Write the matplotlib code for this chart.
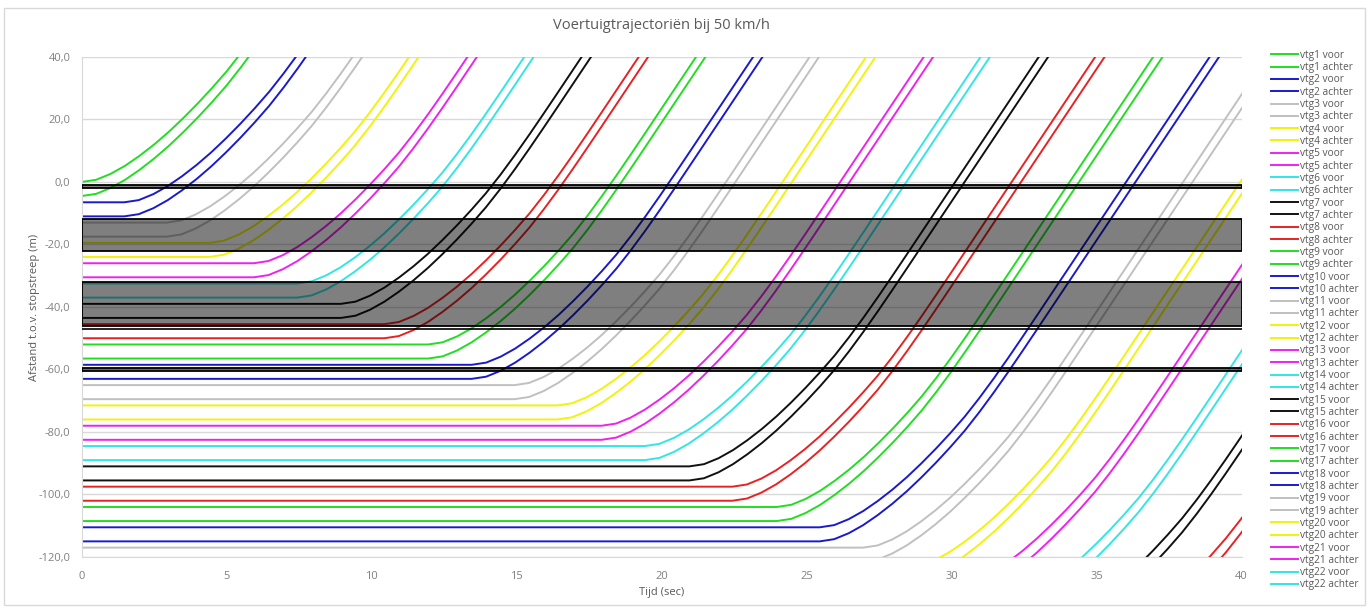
import matplotlib
matplotlib.use("Agg")
import matplotlib.pyplot as plt
from matplotlib.patches import Rectangle
from matplotlib.ticker import FuncFormatter

plt.rcParams['font.family'] = ['Open Sans', 'DejaVu Sans']

# acceleration profile (time since start, distance driven)
tau = [0, 0.5, 1, 1.5, 2, 2.5, 3, 3.5, 4, 4.5, 5, 5.5, 6, 6.5, 7, 7.5, 15]
dist = [0, 0.7, 2.6, 5.2, 8.4, 12.0, 16.0, 20.4, 25.1, 30.1, 35.4, 41.3, 47.6, 54.2, 61.0, 67.9, 172.1]

# waiting position of front and rear of each vehicle (m) and moment it drives off (s)
voor = [0.0, -6.5, -13.0, -19.5, -26.0, -32.5, -39.0, -45.5, -52.0, -58.5, -65.0, -71.5,
        -78.0, -84.5, -91.0, -97.5, -104.0, -110.5, -117.0, -123.5, -130.0, -136.5, -143.0, -149.5]
achter = [-4.5, -11.0, -17.5, -24.0, -30.5, -37.0, -43.5, -50.0, -56.5, -63.0, -69.5, -76.0,
          -82.5, -89.0, -95.5, -102.0, -108.5, -115.0, -121.5, -128.0, -134.5, -141.0, -147.5, -154.0]
t_start = [0.0, 1.47, 2.93, 4.40, 5.94, 7.43, 8.94, 10.44, 11.95, 13.45, 14.93, 16.41,
           17.93, 19.42, 20.96, 22.44, 23.97, 25.45, 26.95, 28.45, 29.95, 31.45, 32.95, 34.45]

colors = ['#22dd22', '#1a1acc', '#c0c0c0', '#f2f20a', '#ee22ee', '#33e5e5', '#111111', '#e82222']
n_legend = 22  # legend in the original stops at vtg22

# road zones (bottom, top) in m
zones = [(-2, -1), (-22, -12), (-46, -32), (-60.5, -59.5)]
extra_line = -47

fig = plt.figure(figsize=(13.7, 6.1), dpi=100)
ax = fig.add_axes([0.0596, 0.0869, 0.8467, 0.8197])

handles = []
for i in range(len(voor)):
    c = colors[i % len(colors)]
    t0 = t_start[i]
    xs = [0, t0] + [t0 + t for t in tau[1:]]
    for kind, pos in (('voor', voor[i]), ('achter', achter[i])):
        ys = [pos, pos] + [pos + d for d in dist[1:]]
        ln, = ax.plot(xs, ys, color=c, lw=1.4, zorder=2,
                      label='vtg%d %s' % (i + 1, kind))
        if i < n_legend:
            handles.append(ln)

for lo, hi in zones:
    ax.add_patch(Rectangle((0, lo), 40, hi - lo, facecolor=(0, 0, 0, 0.5),
                           edgecolor='black', lw=1.3, zorder=3))
ax.axhline(extra_line, color='black', lw=1.2, zorder=3)

ax.set_xlim(0, 40)
ax.set_ylim(-120, 40)
ax.set_xticks(range(0, 41, 5))
ax.set_yticks(range(-120, 41, 20))
ax.yaxis.set_major_formatter(FuncFormatter(lambda v, p: ('%.1f' % v).replace('.', ',')))
ax.grid(axis='y', color='#d9d9d9', lw=1, zorder=0)
ax.set_axisbelow(True)
for s in ('top', 'right'):
    ax.spines[s].set_visible(False)
for s in ('left', 'bottom'):
    ax.spines[s].set_color('#d9d9d9')
ax.tick_params(colors='#808080', labelsize=8, length=0, pad=8)
ax.tick_params(axis='x', pad=10)

ax.set_xlabel('Tijd (sec)', fontsize=8, color='#595959', labelpad=4)
ax.set_ylabel('Afstand t.o.v. stopstreep (m)', fontsize=8, color='#595959', labelpad=-1)
ax.set_title('Voertuigtrajectoriën bij 50 km/h', fontsize=10.5, color='#595959', pad=20)

leg = fig.legend(handles=handles, loc='upper left', bbox_to_anchor=(0.925, 0.925),
                 frameon=False, fontsize=7.3, handlelength=2.6, handletextpad=0.2,
                 labelspacing=0.13, borderaxespad=0)
for t in leg.get_texts():
    t.set_color('#595959')

fig.patches.append(Rectangle((4 / 1370, 5 / 610), 1361 / 1370, 597 / 610,
                             transform=fig.transFigure, fill=False,
                             edgecolor='#d9d9d9', lw=1))

fig.savefig('out.png', dpi=100)
